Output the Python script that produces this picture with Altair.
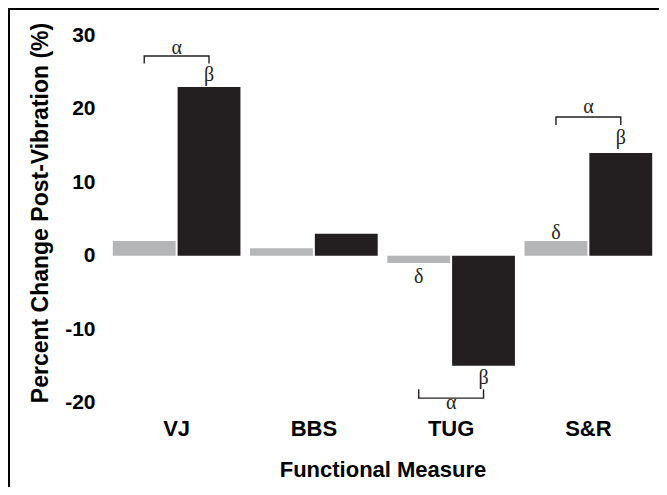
import altair as alt
import pandas as pd

# ---- data -------------------------------------------------------------
measures = ["VJ", "BBS", "TUG", "S&R"]
groups = ["Control", "Vibration"]
control_values = [2, 1, -1, 2]
vibration_values = [23, 3, -15, 14]

# symbols above/below single bars
sym_measures = ["VJ", "TUG", "TUG", "S&R", "S&R"]
sym_groups = ["Vibration", "Control", "Vibration", "Control", "Vibration"]
sym_texts = ["β", "δ", "β", "δ", "β"]
sym_values = [24.6, -2.9, -16.6, 3.1, 16.0]

# between-group symbol (alpha) and its bracket
alpha_measures = ["VJ", "TUG", "S&R"]
alpha_values = [28.3, -20.1, 20.2]
bracket_line_values = [27.2, -19.4, 18.9]
bracket_tip_values = [26.2, -18.2, 17.8]

y_ticks = [-20, -10, 0, 10, 20, 30]

# ---- tables -----------------------------------------------------------
bars = pd.DataFrame(
    [{"measure": m, "group": "Control", "value": v} for m, v in zip(measures, control_values)]
    + [{"measure": m, "group": "Vibration", "value": v} for m, v in zip(measures, vibration_values)]
)
syms = pd.DataFrame({"measure": sym_measures, "group": sym_groups,
                     "text": sym_texts, "value": sym_values})
alphas = pd.DataFrame({"measure": alpha_measures, "value": alpha_values,
                       "text": ["α"] * len(alpha_measures)})
rows = []
for m, lv, tv in zip(alpha_measures, bracket_line_values, bracket_tip_values):
    rows += [
        {"measure": m, "group": "Control", "value": tv, "seq": 0},
        {"measure": m, "group": "Control", "value": lv, "seq": 1},
        {"measure": m, "group": "Vibration", "value": lv, "seq": 2},
        {"measure": m, "group": "Vibration", "value": tv, "seq": 3},
    ]
brackets = pd.DataFrame(rows)

# ---- encodings --------------------------------------------------------
SANS = "Liberation Sans"
SERIF = "Liberation Serif"
INK = "#231f20"

x_enc = alt.X(
    "measure:N", sort=measures,
    scale=alt.Scale(paddingInner=0.07, paddingOuter=0.035),
    axis=alt.Axis(title="Functional Measure", labelAngle=0, domain=False, ticks=False,
                  tickSize=0, grid=False, labelFont=SANS, labelFontSize=22,
                  labelFontWeight="bold", labelColor="black", labelPadding=16,
                  titleFont=SANS, titleFontSize=22, titleFontWeight="bold",
                  titleColor="black", titleY=74, titleBaseline="alphabetic"),
)
xo_enc = alt.XOffset("group:N", sort=groups, scale=alt.Scale(paddingInner=0.03))
y_enc = alt.Y(
    "value:Q",
    scale=alt.Scale(domain=[-20, 30], nice=False, zero=False),
    axis=alt.Axis(title="Percent Change Post-Vibration (%)", values=y_ticks,
                  labelExpr="'' + datum.value",
                  domain=False, ticks=False, tickSize=0, grid=False,
                  labelFont=SANS, labelFontSize=21, labelFontWeight="bold",
                  labelColor="black", labelPadding=13,
                  titleFont=SANS, titleFontSize=23, titleFontWeight="bold",
                  titleColor="black", titleX=-61, titleY=177,
                  titleBaseline="alphabetic"),
)

bar_layer = alt.Chart(bars).mark_bar().encode(
    x=x_enc, xOffset=xo_enc, y=y_enc,
    color=alt.Color("group:N", scale=alt.Scale(domain=groups, range=["#b5b6b8", INK]),
                    legend=None),
)

sym_layer = alt.Chart(syms).mark_text(font=SERIF, fontSize=20, color=INK,
                                      baseline="middle").encode(
    x=x_enc, xOffset=xo_enc, y=y_enc, text="text:N")

alpha_layer = alt.Chart(alphas).mark_text(font=SERIF, fontSize=20, color=INK,
                                          baseline="middle").encode(
    x=x_enc, y=y_enc, text="text:N")

bracket_layer = alt.Chart(brackets).mark_line(color=INK, strokeWidth=1.4).encode(
    x=x_enc, xOffset=xo_enc, y=y_enc, detail="measure:N", order=alt.Order("seq:Q"))

frame = alt.Data(values=[{"k": 1}])
frame_left = alt.Chart(frame).mark_rule(color="black", strokeWidth=2).encode(
    x=alt.value(-99), y=alt.value(-28), y2=alt.value(452))
frame_top = alt.Chart(frame).mark_rule(color="black", strokeWidth=2).encode(
    x=alt.value(-100), x2=alt.value(552), y=alt.value(-26.5))

chart = alt.layer(bar_layer, bracket_layer, sym_layer, alpha_layer,
                  frame_left, frame_top).properties(
    width=549, height=367,
    autosize=alt.AutoSizeParams(type="none"),
    padding={"left": 100, "top": 27.5, "right": 2, "bottom": 84.5},
    background="white",
).configure_view(strokeWidth=0)

chart.save("out.html", embed_options={"renderer": "svg", "actions": False})
